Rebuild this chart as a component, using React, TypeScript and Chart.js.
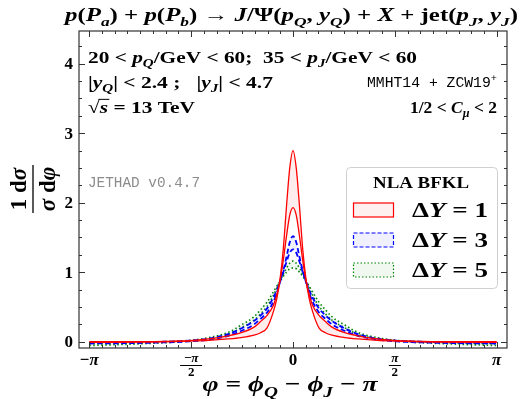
import React, { useEffect, useRef } from 'react';
import { Chart, registerables } from 'chart.js';
Chart.register(...registerables);

const PHI = [-3.1416, -2.5, -2.0, -1.6, -1.3, -1.0, -0.8, -0.6, -0.5, -0.4, -0.3, -0.25, -0.2, -0.15, -0.1, -0.05, 0, 0.05, 0.1, 0.15, 0.2, 0.25, 0.3, 0.4, 0.5, 0.6, 0.8, 1.0, 1.3, 1.6, 2.0, 2.5, 3.1416];

const DY1_HI = [-0.01, -0.005, 0.0, 0.01, 0.02, 0.04, 0.06, 0.095, 0.13, 0.2, 0.44, 0.62, 0.9, 1.33, 1.95, 2.5, 2.75, 2.5, 1.95, 1.33, 0.9, 0.62, 0.44, 0.2, 0.13, 0.095, 0.06, 0.04, 0.02, 0.01, 0.0, -0.005, -0.01];
const DY1_LO = [0.0, 0.0, 0.005, 0.015, 0.04, 0.085, 0.13, 0.21, 0.29, 0.38, 0.53, 0.68, 0.88, 1.17, 1.52, 1.82, 1.93, 1.82, 1.52, 1.17, 0.88, 0.68, 0.53, 0.38, 0.29, 0.21, 0.13, 0.085, 0.04, 0.015, 0.005, 0.0, 0.0];
const DY3_HI = [-0.025, -0.02, -0.01, 0.005, 0.03, 0.085, 0.155, 0.25, 0.33, 0.42, 0.58, 0.7, 0.86, 1.02, 1.22, 1.43, 1.52, 1.43, 1.22, 1.02, 0.86, 0.7, 0.58, 0.42, 0.33, 0.25, 0.155, 0.085, 0.03, 0.005, -0.01, -0.02, -0.025];
const DY3_LO = [-0.015, -0.01, 0.0, 0.015, 0.045, 0.11, 0.19, 0.3, 0.38, 0.48, 0.64, 0.74, 0.87, 1.0, 1.15, 1.28, 1.33, 1.28, 1.15, 1.0, 0.87, 0.74, 0.64, 0.48, 0.38, 0.3, 0.19, 0.11, 0.045, 0.015, 0.0, -0.01, -0.015];
const DY5_HI = [-0.055, -0.035, -0.015, 0.01, 0.04, 0.105, 0.2, 0.31, 0.4, 0.51, 0.67, 0.77, 0.88, 0.97, 1.06, 1.13, 1.16, 1.13, 1.06, 0.97, 0.88, 0.77, 0.67, 0.51, 0.4, 0.31, 0.2, 0.105, 0.04, 0.01, -0.015, -0.035, -0.055];
const DY5_LO = [-0.03, -0.02, 0.0, 0.02, 0.06, 0.135, 0.24, 0.36, 0.46, 0.57, 0.72, 0.8, 0.87, 0.94, 1.0, 1.05, 1.06, 1.05, 1.0, 0.94, 0.87, 0.8, 0.72, 0.57, 0.46, 0.36, 0.24, 0.135, 0.06, 0.02, 0.0, -0.02, -0.03];

const Y_TICKS = [0, 1, 2, 3, 4];
const LEGEND_LABELS = ['1', '3', '5'];

const SERIF = '"Liberation Serif", "DejaVu Serif", serif';
const MONO = '"Liberation Mono", "DejaVu Sans Mono", monospace';

type Seg = { t: string; i?: boolean; s?: 'sub' | 'sup'; m?: boolean; o?: boolean };

function segFont(seg: Seg, size: number) {
  const sz = seg.s ? size * 0.7 : size;
  const fam = seg.m ? MONO : SERIF;
  const w = seg.m ? 'normal' : 'bold';
  return `${seg.i ? 'italic ' : ''}${w} ${sz}px ${fam}`;
}

function measure(ctx: CanvasRenderingContext2D, segs: Seg[], size: number) {
  let w = 0;
  for (const s of segs) {
    ctx.font = segFont(s, size);
    w += ctx.measureText(s.t).width;
  }
  return w;
}

function drawRich(ctx: CanvasRenderingContext2D, segs: Seg[], x: number, yc: number, opts: { align?: 'left' | 'right' | 'center'; size: number; width?: number; color?: string }) {
  const size = opts.size;
  const natural = measure(ctx, segs, size);
  const sx = opts.width ? opts.width / natural : 1;
  const total = natural * sx;
  let startX = x;
  if (opts.align === 'right') startX = x - total;
  else if (opts.align === 'center') startX = x - total / 2;
  const base = yc + size * 0.33;
  ctx.save();
  ctx.translate(startX, 0);
  ctx.scale(sx, 1);
  ctx.fillStyle = opts.color || '#000';
  ctx.strokeStyle = opts.color || '#000';
  ctx.textBaseline = 'alphabetic';
  ctx.textAlign = 'left';
  let cx = 0;
  for (const s of segs) {
    ctx.font = segFont(s, size);
    let dy = 0;
    if (s.s === 'sub') dy = size * 0.25;
    if (s.s === 'sup') dy = -size * 0.4;
    ctx.fillText(s.t, cx, base + dy);
    const w = ctx.measureText(s.t).width;
    if (s.o) {
      ctx.lineWidth = 1;
      ctx.beginPath();
      ctx.moveTo(cx - 1, base - size * 0.78);
      ctx.lineTo(cx + w + 1, base - size * 0.78);
      ctx.stroke();
    }
    cx += w;
  }
  ctx.restore();
}

const TITLE: Seg[] = [
  { t: 'p', i: true }, { t: '(' }, { t: 'P', i: true }, { t: 'a', i: true, s: 'sub' }, { t: ') + ' },
  { t: 'p', i: true }, { t: '(' }, { t: 'P', i: true }, { t: 'b', i: true, s: 'sub' }, { t: ') → ' },
  { t: 'J', i: true }, { t: '/Ψ(' }, { t: 'p', i: true }, { t: 'Q', i: true, s: 'sub' }, { t: ', ' },
  { t: 'y', i: true }, { t: 'Q', i: true, s: 'sub' }, { t: ') + ' }, { t: 'X', i: true }, { t: ' + jet(' },
  { t: 'p', i: true }, { t: 'J', i: true, s: 'sub' }, { t: ', ' }, { t: 'y', i: true }, { t: 'J', i: true, s: 'sub' }, { t: ')' },
];
const LINE1: Seg[] = [
  { t: '20 < ' }, { t: 'p', i: true }, { t: 'Q', i: true, s: 'sub' }, { t: '/GeV < 60;  35 < ' },
  { t: 'p', i: true }, { t: 'J', i: true, s: 'sub' }, { t: '/GeV < 60' },
];
const LINE2: Seg[] = [
  { t: '|' }, { t: 'y', i: true }, { t: 'Q', i: true, s: 'sub' }, { t: '| < 2.4 ;   |' },
  { t: 'y', i: true }, { t: 'J', i: true, s: 'sub' }, { t: '| < 4.7' },
];
const LINE3: Seg[] = [{ t: '√' }, { t: 's', i: true, o: true }, { t: ' = 13 TeV' }];
const PDF: Seg[] = [{ t: 'MMHT14 + ZCW19', m: true }, { t: '+', m: true, s: 'sup' }];
const CMU: Seg[] = [{ t: '1/2 < ' }, { t: 'C', i: true }, { t: 'μ', i: true, s: 'sub' }, { t: ' < 2' }];
const JETHAD: Seg[] = [{ t: 'JETHAD v0.4.7', m: true }];
const XTITLE: Seg[] = [
  { t: 'φ', i: true }, { t: ' = ' }, { t: 'ϕ', i: true }, { t: 'Q', i: true, s: 'sub' }, { t: ' − ' },
  { t: 'ϕ', i: true }, { t: 'J', i: true, s: 'sub' }, { t: ' − ' }, { t: 'π', i: true },
];

const overlay = {
  id: 'overlay',
  afterDatasetsDraw(chart: any) {
    const ctx: CanvasRenderingContext2D = chart.ctx;
    const a = chart.chartArea;
    const xs = chart.scales.x;
    const ys = chart.scales.y;
    ctx.save();
    ctx.strokeStyle = '#333';
    ctx.lineWidth = 1.2;
    ctx.strokeRect(a.left, a.top, a.right - a.left, a.bottom - a.top);
    ctx.lineWidth = 1;
    for (let k = -16; k <= 16; k++) {
      const v = (k * Math.PI) / 16;
      const px = Math.round(xs.getPixelForValue(v)) + 0.5;
      const len = k % 8 === 0 ? 6 : 3;
      ctx.beginPath();
      ctx.moveTo(px, a.bottom); ctx.lineTo(px, a.bottom - len);
      ctx.moveTo(px, a.top); ctx.lineTo(px, a.top + len);
      ctx.stroke();
    }
    for (let k = 0; k <= 17; k++) {
      const v = k * 0.25;
      const py = Math.round(ys.getPixelForValue(v)) + 0.5;
      const len = k % 4 === 0 ? 6 : 3;
      ctx.beginPath();
      ctx.moveTo(a.left, py); ctx.lineTo(a.left + len, py);
      ctx.moveTo(a.right, py); ctx.lineTo(a.right - len, py);
      ctx.stroke();
    }
    ctx.restore();
  },
  afterDraw(chart: any) {
    const ctx: CanvasRenderingContext2D = chart.ctx;
    const xs = chart.scales.x;
    const ys = chart.scales.y;
    drawRich(ctx, TITLE, 291.5, 15, { align: 'center', size: 19, width: 453 });
    drawRich(ctx, LINE1, 88, 57, { align: 'left', size: 17, width: 329 });
    drawRich(ctx, LINE2, 88, 82, { align: 'left', size: 17, width: 185 });
    drawRich(ctx, PDF, 497, 82, { align: 'right', size: 14, width: 130 });
    drawRich(ctx, LINE3, 88, 107, { align: 'left', size: 17, width: 107 });
    drawRich(ctx, CMU, 497, 107, { align: 'right', size: 17, width: 87 });
    drawRich(ctx, JETHAD, 88, 182, { align: 'left', size: 14, width: 112, color: '#8c8c8c' });
    drawRich(ctx, XTITLE, 290, 384, { align: 'center', size: 22, width: 175 });

    for (const v of Y_TICKS) {
      drawRich(ctx, [{ t: String(v) }], 73, ys.getPixelForValue(v), { align: 'right', size: 17 });
    }
    const yl = 359;
    drawRich(ctx, [{ t: '−' }, { t: 'π', i: true }], xs.getPixelForValue(-Math.PI), yl, { align: 'center', size: 17 });
    drawRich(ctx, [{ t: '0' }], xs.getPixelForValue(0), yl, { align: 'center', size: 17 });
    drawRich(ctx, [{ t: 'π', i: true }], xs.getPixelForValue(Math.PI), yl, { align: 'center', size: 17 });
    for (const sgn of [-1, 1]) {
      const cx = xs.getPixelForValue((sgn * Math.PI) / 2);
      const num: Seg[] = sgn < 0 ? [{ t: '−' }, { t: 'π', i: true }] : [{ t: 'π', i: true }];
      drawRich(ctx, num, cx, 358, { align: 'center', size: 13 });
      ctx.save();
      ctx.strokeStyle = '#000';
      ctx.lineWidth = 1;
      const hw = sgn < 0 ? 11 : 6;
      ctx.beginPath();
      ctx.moveTo(cx - hw, 365.5); ctx.lineTo(cx + hw, 365.5);
      ctx.stroke();
      ctx.restore();
      drawRich(ctx, [{ t: '2' }], cx, 371.5, { align: 'center', size: 13 });
    }

    ctx.save();
    ctx.translate(33, 189);
    ctx.rotate(-Math.PI / 2);
    drawRich(ctx, [{ t: '1 d' }, { t: 'σ', i: true }], 0, -15, { align: 'center', size: 23 });
    ctx.strokeStyle = '#000';
    ctx.lineWidth = 1.3;
    ctx.beginPath();
    ctx.moveTo(-24, 0); ctx.lineTo(24, 0);
    ctx.stroke();
    drawRich(ctx, [{ t: 'σ', i: true }, { t: ' d' }, { t: 'φ', i: true }], 0, 14, { align: 'center', size: 23 });
    ctx.restore();

    ctx.save();
    ctx.fillStyle = 'rgba(255,255,255,0.85)';
    ctx.strokeStyle = '#d0d0d0';
    ctx.lineWidth = 1;
    ctx.beginPath();
    (ctx as any).roundRect(346.5, 167.5, 151, 121, 4);
    ctx.fill();
    ctx.stroke();
    ctx.restore();
    drawRich(ctx, [{ t: 'NLA BFKL' }], 421, 183, { align: 'center', size: 16, width: 96 });
    const cols = [
      { stroke: 'rgb(255,0,0)', fill: 'rgba(255,0,0,0.06)', dash: [] as number[] },
      { stroke: 'rgb(0,0,255)', fill: 'rgba(0,0,255,0.06)', dash: [4, 2] },
      { stroke: 'rgb(0,128,0)', fill: 'rgba(0,128,0,0.06)', dash: [1.5, 2] },
    ];
    LEGEND_LABELS.forEach((lab, k) => {
      const yc = 210 + k * 30;
      ctx.save();
      ctx.fillStyle = cols[k].fill;
      ctx.strokeStyle = cols[k].stroke;
      ctx.lineWidth = 1.2;
      ctx.setLineDash(cols[k].dash);
      ctx.fillRect(353.5, yc - 7, 40, 14);
      ctx.strokeRect(353.5, yc - 7, 40, 14);
      ctx.restore();
      drawRich(ctx, [{ t: 'Δ' }, { t: 'Y', i: true }, { t: ' = ' + lab }], 412, yc, { align: 'left', size: 20, width: 76 });
    });
  },
};

function ds(data: number[], color: string, fill: string | false, dash: number[], width: number) {
  return {
    data: PHI.map((x, i) => ({ x, y: data[i] })),
    borderColor: color,
    backgroundColor: fill || 'transparent',
    fill: fill ? '-1' : false,
    borderDash: dash,
    borderWidth: width,
    pointRadius: 0,
    cubicInterpolationMode: 'monotone' as const,
  };
}

export default function App() {
  const ref = useRef<HTMLCanvasElement>(null);
  useEffect(() => {
    const chart = new Chart(ref.current!, {
      type: 'line',
      data: {
        datasets: [
          ds(DY1_HI, 'rgb(255,0,0)', false, [], 1.3),
          ds(DY1_LO, 'rgb(255,0,0)', 'rgba(255,0,0,0.07)', [], 1.3),
          ds(DY3_HI, 'rgb(0,0,255)', false, [5, 3], 1.8),
          ds(DY3_LO, 'rgb(0,0,255)', 'rgba(0,0,255,0.06)', [5, 3], 1.8),
          ds(DY5_HI, 'rgb(0,128,0)', false, [1.5, 2.5], 1.6),
          ds(DY5_LO, 'rgb(0,128,0)', 'rgba(0,128,0,0.06)', [1.5, 2.5], 1.6),
        ] as any,
      },
      options: {
        responsive: false,
        animation: false,
        layout: { padding: { top: 31, right: 13, left: 0, bottom: 0 } },
        plugins: { legend: { display: false }, tooltip: { enabled: false } },
        scales: {
          x: {
            type: 'linear', min: -3.3, max: 3.3,
            grid: { display: false }, border: { display: false },
            ticks: { display: false },
            afterFit: (s: any) => { s.height = 51; },
          },
          y: {
            type: 'linear', min: -0.09, max: 4.47,
            grid: { display: false }, border: { display: false },
            ticks: { display: false },
            afterFit: (s: any) => { s.width = 79; },
          },
        },
      },
      plugins: [overlay],
    });
    return () => chart.destroy();
  }, []);
  return (
    <div style={{ position: 'fixed', left: 0, top: 0, width: 520, height: 399, background: '#fff' }}>
      <canvas ref={ref} width={520} height={399} style={{ display: 'block' }} />
    </div>
  );
}
